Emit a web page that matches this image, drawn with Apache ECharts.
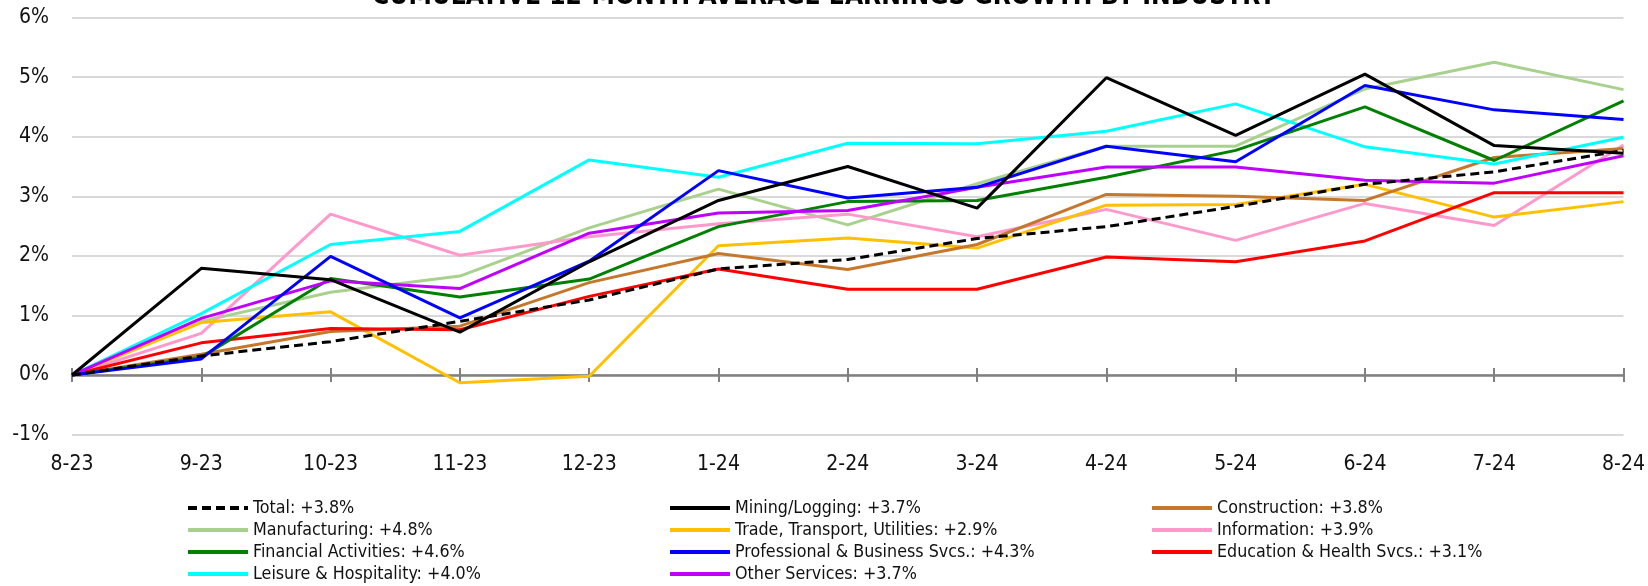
<!DOCTYPE html>
<html>
<head>
<meta charset="utf-8">
<script src="https://cdn.jsdelivr.net/npm/echarts@6/dist/echarts.min.js"></script>
<style>
html,body{margin:0;padding:0;background:#fff;}
#chart{width:1648px;height:586px;}
</style>
</head>
<body>
<div id="chart"></div>
<script>
const months = ['8-23','9-23','10-23','11-23','12-23','1-24','2-24','3-24','4-24','5-24','6-24','7-24','8-24'];
const yTicks = [-1, 0, 1, 2, 3, 4, 5, 6];

const totalVals        = [0, 0.32, 0.56, 0.90, 1.26, 1.78, 1.94, 2.29, 2.49, 2.83, 3.20, 3.41, 3.77];
const miningVals       = [0, 1.79, 1.60, 0.72, 1.90, 2.93, 3.50, 2.80, 4.99, 4.02, 5.05, 3.85, 3.72];
const constructionVals = [0, 0.35, 0.73, 0.82, 1.55, 2.04, 1.77, 2.19, 3.03, 3.00, 2.93, 3.65, 3.80];
const manufacturingVals= [0, 0.90, 1.39, 1.66, 2.47, 3.12, 2.52, 3.21, 3.84, 3.84, 4.80, 5.25, 4.79];
const tradeVals        = [0, 0.88, 1.06, -0.13, -0.02, 2.17, 2.30, 2.13, 2.85, 2.86, 3.20, 2.65, 2.91];
const informationVals  = [0, 0.70, 2.70, 2.01, 2.32, 2.54, 2.70, 2.32, 2.78, 2.26, 2.88, 2.51, 3.86];
const financialVals    = [0, 0.30, 1.62, 1.31, 1.61, 2.49, 2.91, 2.93, 3.32, 3.77, 4.50, 3.60, 4.60];
const professionalVals = [0, 0.27, 1.99, 0.96, 1.91, 3.43, 2.97, 3.15, 3.84, 3.58, 4.86, 4.45, 4.29];
const educationVals    = [0, 0.54, 0.78, 0.76, 1.32, 1.78, 1.44, 1.44, 1.98, 1.90, 2.25, 3.06, 3.06];
const leisureVals      = [0, 1.03, 2.19, 2.41, 3.61, 3.32, 3.89, 3.88, 4.09, 4.55, 3.83, 3.54, 3.99];
const otherVals        = [0, 0.95, 1.58, 1.45, 2.38, 2.72, 2.76, 3.15, 3.49, 3.49, 3.27, 3.22, 3.68];

const titleText = 'CUMULATIVE 12-MONTH AVERAGE EARNINGS GROWTH BY INDUSTRY';
const names = {
  total: 'Total: +3.8%',
  mining: 'Mining/Logging: +3.7%',
  construction: 'Construction: +3.8%',
  manufacturing: 'Manufacturing: +4.8%',
  trade: 'Trade, Transport, Utilities: +2.9%',
  information: 'Information: +3.9%',
  financial: 'Financial Activities: +4.6%',
  professional: 'Professional & Business Svcs.: +4.3%',
  education: 'Education & Health Svcs.: +3.1%',
  leisure: 'Leisure & Hospitality: +4.0%',
  other: 'Other Services: +3.7%'
};

// ---- font selection (prefer a narrow face, then fit sizes to the reference widths)
const mctx = document.createElement('canvas').getContext('2d');
function measure(font, text) { mctx.font = font; return mctx.measureText(text).width; }
function hasFamily(fam) {
  const t = 'abcdefghijklmnopqrstuvwxyzABCDEFGHIJ0123456789%';
  return ['monospace', 'serif'].every(fb => measure('20px "' + fam + '", ' + fb, t) !== measure('20px ' + fb, t));
}
const candidates = ['Liberation Sans Narrow', 'Arial Narrow', 'Nimbus Sans Narrow', 'DejaVu Sans Condensed', 'Liberation Sans', 'Arial', 'Roboto'];
let FAM = 'sans-serif';
for (const c of candidates) { if (hasFamily(c)) { FAM = '"' + c + '"'; break; } }
const FONT = FAM + ', sans-serif';
function fit(base, target, text, weight) {
  const w = measure((weight || '') + ' ' + base + 'px ' + FONT, text);
  return Math.min(base, base * target / w);
}
const legSize = fit(20, 228, names.leisure);
const axSize = fit(24, 55, '10-23');
const titleSize = fit(30, 904, titleText, 'bold');

function line(name, data, color, extra) {
  return Object.assign({
    name: name, type: 'line', data: data, xAxisIndex: 0, yAxisIndex: 0,
    symbol: 'none', showSymbol: false, smooth: false,
    lineStyle: { color: color, width: 3 },
    itemStyle: { color: color }
  }, extra || {});
}

const chart = echarts.init(document.getElementById('chart'), null, { renderer: 'canvas' });

const legendCommon = {
  orient: 'vertical', itemWidth: 60, itemHeight: 14, itemGap: 2, padding: 0,
  textStyle: { fontFamily: FONT, fontSize: legSize, lineHeight: 20, color: '#111' },
  lineStyle: { width: 4 },
  itemStyle: { color: 'transparent', borderWidth: 0, opacity: 0 },
  selectedMode: false
};

chart.setOption({
  animation: false,
  backgroundColor: '#ffffff',
  title: {
    text: titleText,
    left: 'center', top: 6 - 0.8465 * titleSize, padding: 0,
    textStyle: { fontFamily: FONT, fontSize: titleSize, fontWeight: 'bold', color: '#000' }
  },
  grid: { left: 72, right: 22, top: 17.5, bottom: 151.4, containLabel: false },
  legend: [
    Object.assign({ left: 186, top: 498, data: [names.total, names.manufacturing, names.financial, names.leisure] }, legendCommon),
    Object.assign({ left: 668, top: 498, data: [names.mining, names.trade, names.professional, names.other] }, legendCommon),
    Object.assign({ left: 1150, top: 498, data: [names.construction, names.information, names.education] }, legendCommon)
  ],
  xAxis: [
    {
      type: 'category', data: months, boundaryGap: false, position: 'bottom', offset: 0,
      axisLine: { show: true, onZero: true, onZeroAxisIndex: 0, lineStyle: { color: '#808080', width: 2.5 } },
      axisTick: { show: true, inside: false, length: 7, lineStyle: { color: '#808080', width: 2 } },
      axisLabel: { show: false }, splitLine: { show: false }
    },
    {
      type: 'category', data: months, boundaryGap: false, position: 'bottom', offset: 0,
      axisLine: { show: false, onZero: true, onZeroAxisIndex: 0 },
      axisTick: { show: true, inside: true, length: 7, lineStyle: { color: '#808080', width: 2 } },
      axisLabel: { show: false }, splitLine: { show: false }
    },
    {
      type: 'category', data: months, boundaryGap: false, position: 'bottom', offset: 0,
      axisLine: { show: false, onZero: false },
      axisTick: { show: false },
      axisLabel: { show: true, fontFamily: FONT, fontSize: axSize, color: '#111', margin: 19 },
      splitLine: { show: false }
    }
  ],
  yAxis: {
    type: 'value', min: yTicks[0], max: yTicks[yTicks.length - 1], interval: 1,
    axisLine: { show: false }, axisTick: { show: false },
    axisLabel: { fontFamily: FONT, fontSize: axSize, color: '#111', margin: 23, formatter: '{value}%' },
    splitLine: { show: true, lineStyle: { color: '#d9d9d9', width: 2 } }
  },
  series: [
    line(names.manufacturing, manufacturingVals, '#a9d18e'),
    line(names.information, informationVals, '#ff99cc'),
    line(names.trade, tradeVals, '#ffc000'),
    line(names.construction, constructionVals, '#c5772c'),
    line(names.education, educationVals, '#ff0000'),
    line(names.leisure, leisureVals, '#00ffff'),
    line(names.financial, financialVals, '#008000'),
    line(names.other, otherVals, '#c000ff'),
    line(names.professional, professionalVals, '#0000ff'),
    line(names.mining, miningVals, '#000000'),
    line(names.total, totalVals, '#000000', { lineStyle: { color: '#000000', width: 3, type: [9, 5] } })
  ]
});
</script>
</body>
</html>
